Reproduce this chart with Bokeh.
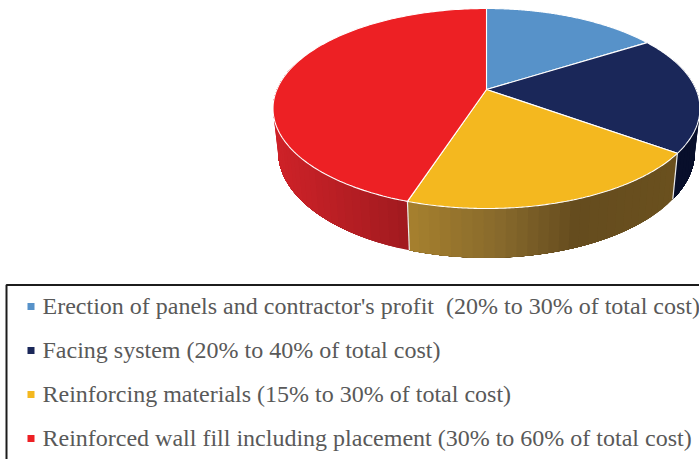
import numpy as np
from bokeh.plotting import figure
from bokeh.models import ColumnDataSource, Range1d
from bokeh.core.properties import value
from bokeh.embed import file_html
from bokeh.resources import INLINE

categories = [
    "Erection of panels and contractor's profit \u00a0(20% to 30% of total cost)",
    "Facing system (20% to 40% of total cost)",
    "Reinforcing materials (15% to 30% of total cost)",
    "Reinforced wall fill including placement (30% to 60% of total cost)",
]
shares = [16, 19, 20, 45]
colors = ["#5792C9", "#1A2759", "#F4B81F", "#ED2024"]

CX, CY, R, YR, PERSP = 486.0, 89.0, 209.6, 79.48, 0.19

def top_xy(theta):
    u, v = np.sin(theta), np.cos(theta)
    w = 1 + PERSP * v
    return CX + R * u / w, (CY - YR * v) / w

def bottom_xy(theta):
    x, y = top_xy(theta)
    return CX + 0.976 * (x - CX), 199 + 1.06 * (y - 153)

def lerp(stops, x):
    xs = [s[0] for s in stops]
    return "#%02x%02x%02x" % tuple(
        int(round(np.interp(x, xs, [s[1][i] for s in stops]))) for i in range(3)
    )

edges = np.radians(np.concatenate([[0], np.cumsum(shares)]) * 3.6)

p = figure(width=699, height=459, output_backend="svg", toolbar_location=None,
           x_range=Range1d(0, 699), y_range=Range1d(459, 0),
           min_border=0, outline_line_color=None, background_fill_color="white")
p.axis.visible = False
p.grid.visible = False
p.styles = {"position": "absolute", "left": "0px", "top": "0px"}

# side wall, drawn as overlapping strips that carry the horizontal shading
ramps = {
    1: [(0, (8, 15, 43)), (699, (8, 15, 43))],
    2: [(410, (166, 128, 46)), (500, (135, 105, 44)), (575, (101, 76, 30)), (673, (106, 80, 30))],
    3: [(277, (206, 34, 40)), (410, (160, 26, 31))],
}
spans = {1: (np.radians(70), edges[2]), 2: (edges[2], edges[3]), 3: (edges[3], np.radians(285))}
for i, (a, b) in spans.items():
    grid = np.linspace(a, b, int(np.degrees(b - a) / 2.5) + 2)
    # each strip runs from its start to the far end of the section, so later strips
    # paint over earlier ones and no hairline shows between them
    for t0 in grid[:-1]:
        t = np.linspace(t0, b, 60)
        xa, ya = top_xy(t)
        xb, yb = bottom_xy(t[::-1])
        xmid = float((top_xy(t0 + (grid[1] - grid[0]) / 2)[0] + bottom_xy(t0 + (grid[1] - grid[0]) / 2)[0]) / 2)
        c = lerp(ramps[i], xmid)
        p.patch(np.r_[xa, xb], np.r_[ya, yb], fill_color=c, line_color=None)

# white seams between wall sections
for t in (edges[2], edges[3]):
    x0, y0 = top_xy(t)
    x1, y1 = bottom_xy(t)
    p.line([x0, x1], [y0, y1], line_color="#EDEDED", line_width=1.2)

# top face
for i in range(4):
    t = np.linspace(edges[i], edges[i + 1], 160)
    x, y = top_xy(t)
    p.patch(np.r_[CX, x], np.r_[CY, y], fill_color=colors[i], line_color="white", line_width=1.1)

# legend
ly = [306, 350, 394, 438]
src = ColumnDataSource(dict(x=[30.5] * 4, tx=[42] * 4, y=ly, ty=[305.5, 349.5, 393.5, 437.5], c=colors, t=categories))
p.scatter("x", "y", source=src, marker="square", size=7, fill_color="c", line_color=None)
p.text("tx", "ty", text="t", source=src, text_font=value("Liberation Serif"),
       text_font_size="24px", text_color="#595959", text_baseline="middle", text_align="left")
p.line([6, 6, 720], [470, 284.5, 284.5], line_color="#1c1c1c", line_width=2)

open("out.html", "w").write(file_html(p, INLINE))
